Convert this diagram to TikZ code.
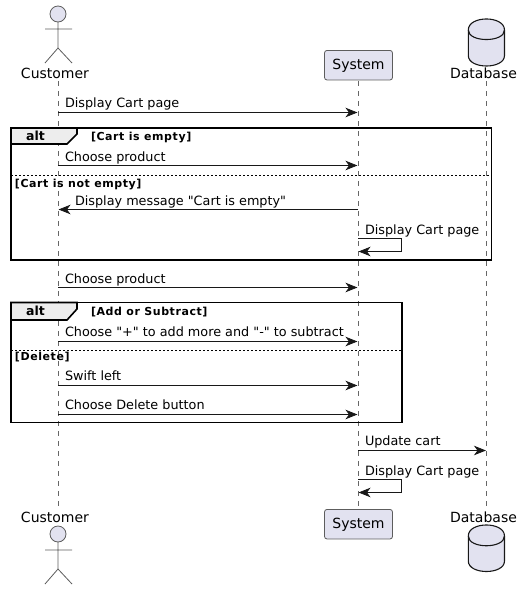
\documentclass[tikz,border=0pt]{standalone}
\usepackage{fontspec}
\newfontfamily\dv{DejaVu Sans}
\newfontfamily\dvs[LetterSpace=5.2]{DejaVu Sans}
\usetikzlibrary{arrows.meta}
\definecolor{partfill}{HTML}{E2E2F0}
\definecolor{partline}{HTML}{181818}
\tikzset{
  every node/.style={inner sep=0pt,outer sep=0pt,font=\dv\fontsize{12.8}{15}\selectfont,text=black},
  lifeline/.style={draw=black!60,line width=0.6pt,dash pattern=on 5pt off 5pt},
  msg/.style={draw=partline,line width=0.75pt,-{Stealth[length=12pt,width=9.5pt,inset=3.5pt]},shorten >=0.5pt},
  msglabel/.style={anchor=base west},
  partname/.style={anchor=base,font=\dv\fontsize{14}{16}\selectfont},
  framebox/.style={draw=black,line width=1.6pt},
  tabshape/.style={draw=black,line width=1.6pt,fill=black!7},
  divider/.style={draw=black,line width=0.7pt,dash pattern=on 2pt off 2pt},
  guard/.style={anchor=base west,font=\dvs\fontsize{11}{13}\selectfont\bfseries},
  alttext/.style={anchor=base,font=\dv\fontsize{12.5}{15}\selectfont\bfseries},
  actorline/.style={draw=partline!70,line width=0.8pt},
  actorhead/.style={draw=partline!70,line width=0.8pt,fill=partfill},
  syslabel/.style={draw=partline!70,line width=0.8pt,fill=partfill,rounded corners=2.5pt,minimum width=68pt,minimum height=29.5pt,text height=11pt,text depth=2.4pt,font=\dv\fontsize{14}{16}\selectfont},
  dbshape/.style={draw=partline,line width=1.1pt,fill=partfill},
}
\begin{document}
\begin{tikzpicture}[x=1pt,y=-1pt]
\useasboundingbox (0,0) rectangle (523,590);
% lifeline anchors
\coordinate (cT) at (58,81);  \coordinate (cB) at (58,509);
\coordinate (sT) at (358,81); \coordinate (sB) at (358,509);
\coordinate (dT) at (486.5,81); \coordinate (dB) at (486.5,509);
\draw[lifeline] (cT) -- (cB);
\draw[lifeline] (sT) -- (sB);
\draw[lifeline] (dT) -- (dB);
% participants top
\draw[actorhead] (58,14) circle (8);
\draw[actorline] (58,22) -- (58,48) (45,29) -- (72,29) (45,63) -- (58,48) -- (72,63);
\node[partname] (custTop) at (55,78) {Customer};
\node[syslabel] (sysTop) at (358.5,65.2) {System};
\path[dbshape] (468.3,30) .. controls (468.3,15.3) and (504.5,15.3) .. (504.5,30) -- (504.5,55.5) .. controls (504.5,69.5) and (468.3,69.5) .. (468.3,55.5) -- cycle;
\path[dbshape,fill=none] (468.3,30) .. controls (468.3,42.7) and (504.5,42.7) .. (504.5,30);
\node[partname] (dbTop) at (483.5,78) {Database};
% participants bottom
\node[partname] (custBot) at (55,522) {Customer};
\draw[actorhead] (58,534) circle (8);
\draw[actorline] (58,542) -- (58,569) (45,550) -- (72,550) (45,584) -- (58,569) -- (72,584);
\node[syslabel] (sysBot) at (358.5,524.2) {System};
\node[partname] (dbBot) at (483.5,522) {Database};
\path[dbshape] (468.3,536) .. controls (468.3,521.3) and (504.5,521.3) .. (504.5,536) -- (504.5,561) .. controls (504.5,575) and (468.3,575) .. (468.3,561) -- cycle;
\path[dbshape,fill=none] (468.3,536) .. controls (468.3,549) and (504.5,549) .. (504.5,536);
% frame 1
\coordinate (f1a) at (11,128); \coordinate (f1b) at (491.5,260);
\draw[framebox] (f1a) rectangle (f1b);
\draw[tabshape] (11,128) -- (77,128) -- (77,134) -- (67,144) -- (11,144) -- cycle;
\node[alttext] (alt1) at (35.5,140) {alt};
\node[guard] (g1) at (91,140) {[Cart is empty]};
\coordinate (d1a) at (11,175); \coordinate (d1b) at (491.5,175);
\draw[divider] (d1a) -- (d1b);
\node[guard] (g2) at (15,187.5) {[Cart is not empty]};
% frame 2
\coordinate (f2a) at (11,302.5); \coordinate (f2b) at (402,422.5);
\draw[framebox] (f2a) rectangle (f2b);
\draw[tabshape] (11,302.5) -- (77,302.5) -- (77,309) -- (67,320) -- (11,320) -- cycle;
\node[alttext] (alt2) at (35.5,315.5) {alt};
\node[guard] (g3) at (91,315.5) {[Add or Subtract]};
\coordinate (d2a) at (11,350.5); \coordinate (d2b) at (402,350.5);
\draw[divider] (d2a) -- (d2b);
\node[guard] (g4) at (15,360.5) {[Delete]};
% messages
\coordinate (m1a) at (58,112.5); \coordinate (m1b) at (358,112.5);
\draw[msg] (m1a) -- (m1b);
\node[msglabel] (t1) at (65,107) {Display Cart page};
\coordinate (m2a) at (58,165.5); \coordinate (m2b) at (358,165.5);
\draw[msg] (m2a) -- (m2b);
\node[msglabel] (t2) at (65,161) {Choose product};
\coordinate (m3a) at (358,209.5); \coordinate (m3b) at (58,209.5);
\draw[msg] (m3a) -- (m3b);
\node[msglabel] (t3) at (75,205) {Display message "Cart is empty"};
\coordinate (m4a) at (358,238.5); \coordinate (m4b) at (358,251.5);
\draw[msg] (m4a) -- (401,238.5) -- (401,251.5) -- (m4b);
\node[msglabel] (t4) at (365,234) {Display Cart page};
\coordinate (m5a) at (58,287.5); \coordinate (m5b) at (358,287.5);
\draw[msg] (m5a) -- (m5b);
\node[msglabel] (t5) at (65,283) {Choose product};
\coordinate (m6a) at (58,341.5); \coordinate (m6b) at (358,341.5);
\draw[msg] (m6a) -- (m6b);
\node[msglabel] (t6) at (65,336.5) {Choose "+" to add more and "-" to subtract};
\coordinate (m7a) at (58,385.5); \coordinate (m7b) at (358,385.5);
\draw[msg] (m7a) -- (m7b);
\node[msglabel] (t7) at (65,380.5) {Swift left};
\coordinate (m8a) at (58,414.5); \coordinate (m8b) at (358,414.5);
\draw[msg] (m8a) -- (m8b);
\node[msglabel] (t8) at (65,409.5) {Choose Delete button};
\coordinate (m9a) at (358,450.5); \coordinate (m9b) at (486.5,450.5);
\draw[msg] (m9a) -- (m9b);
\node[msglabel] (t9) at (365,445.5) {Update cart};
\coordinate (m10a) at (358,479.5); \coordinate (m10b) at (358,492.5);
\draw[msg] (m10a) -- (401,479.5) -- (401,492.5) -- (m10b);
\node[msglabel] (t10) at (365,475) {Display Cart page};
\end{tikzpicture}
\end{document}
